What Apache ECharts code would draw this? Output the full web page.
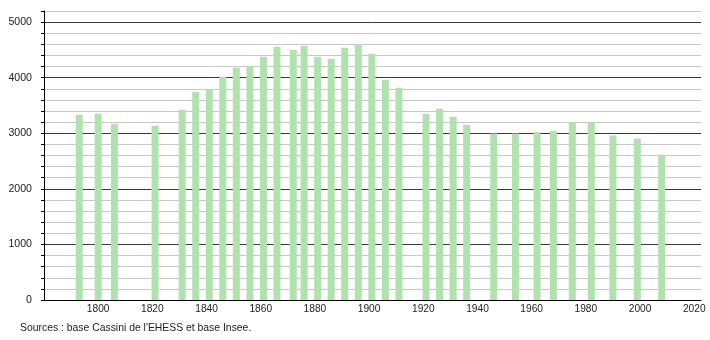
<!DOCTYPE html>
<html>
<head>
<meta charset="utf-8">
<script src="https://cdn.jsdelivr.net/npm/echarts@6/dist/echarts.min.js"></script>
<style>
html,body{margin:0;padding:0;background:#fff;}
#c{width:710px;height:340px;}
</style>
</head>
<body>
<div id="c"></div>
<script>
const years = [1793,1800,1806,1821,1831,1836,1841,1846,1851,1856,1861,1866,1872,1876,1881,1886,1891,1896,1901,1906,1911,1921,1926,1931,1936,1946,1954,1962,1968,1975,1982,1990,1999,2008];
const population = [3333,3351,3171,3135,3423,3746,3795,4016,4178,4209,4376,4556,4500,4573,4376,4340,4538,4604,4430,3962,3818,3351,3440,3297,3153,2997,2997,3021,3045,3201,3201,2960,2906,2613];
const xTickLabels = [1800,1820,1840,1860,1880,1900,1920,1940,1960,1980,2000,2020];
const yTickLabels = [0,1000,2000,3000,4000,5000];
const sourceText = "Sources : base Cassini de l'EHESS et base Insee.";

const chart = echarts.init(document.getElementById('c'), null, {renderer:'canvas'});
const font = '"Liberation Sans", Arial, sans-serif';
chart.setOption({
  animation:false,
  backgroundColor:'#fff',
  grid:{left:44,right:9,top:11,bottom:40,containLabel:false},
  graphic:[{type:'text',left:20,top:323,style:{text:sourceText,fontFamily:font,fontSize:10.4,fill:'#222'}}],
  xAxis:{
    type:'value',min:1780,max:2022.5,interval:20,
    axisLine:{show:true,onZero:false,lineStyle:{color:'#000',width:1}},
    axisTick:{show:false},
    splitLine:{show:false},
    axisLabel:{showMinLabel:false,showMaxLabel:false,margin:4,fontFamily:font,fontSize:10.2,color:'#222',
      formatter:v=>xTickLabels.includes(v)?String(v):''}
  },
  yAxis:{
    type:'value',min:0,max:5200,interval:200,
    axisLine:{show:true,lineStyle:{color:'#000',width:1}},
    axisTick:{show:true,length:3,lineStyle:{color:'#000'}},
    splitLine:{show:true,lineStyle:{color:['#3a3a3a','#c8c8c8','#c8c8c8','#c8c8c8','#c8c8c8'],width:1}},
    axisLabel:{margin:12,fontFamily:font,fontSize:10.6,color:'#222',
      formatter:v=>yTickLabels.includes(v)?String(v):''}
  },
  series:[{
    type:'bar',barWidth:7,
    itemStyle:{color:'#b0e2ae'},
    data:years.map((y,i)=>[y,population[i]])
  }]
});
</script>
</body>
</html>
